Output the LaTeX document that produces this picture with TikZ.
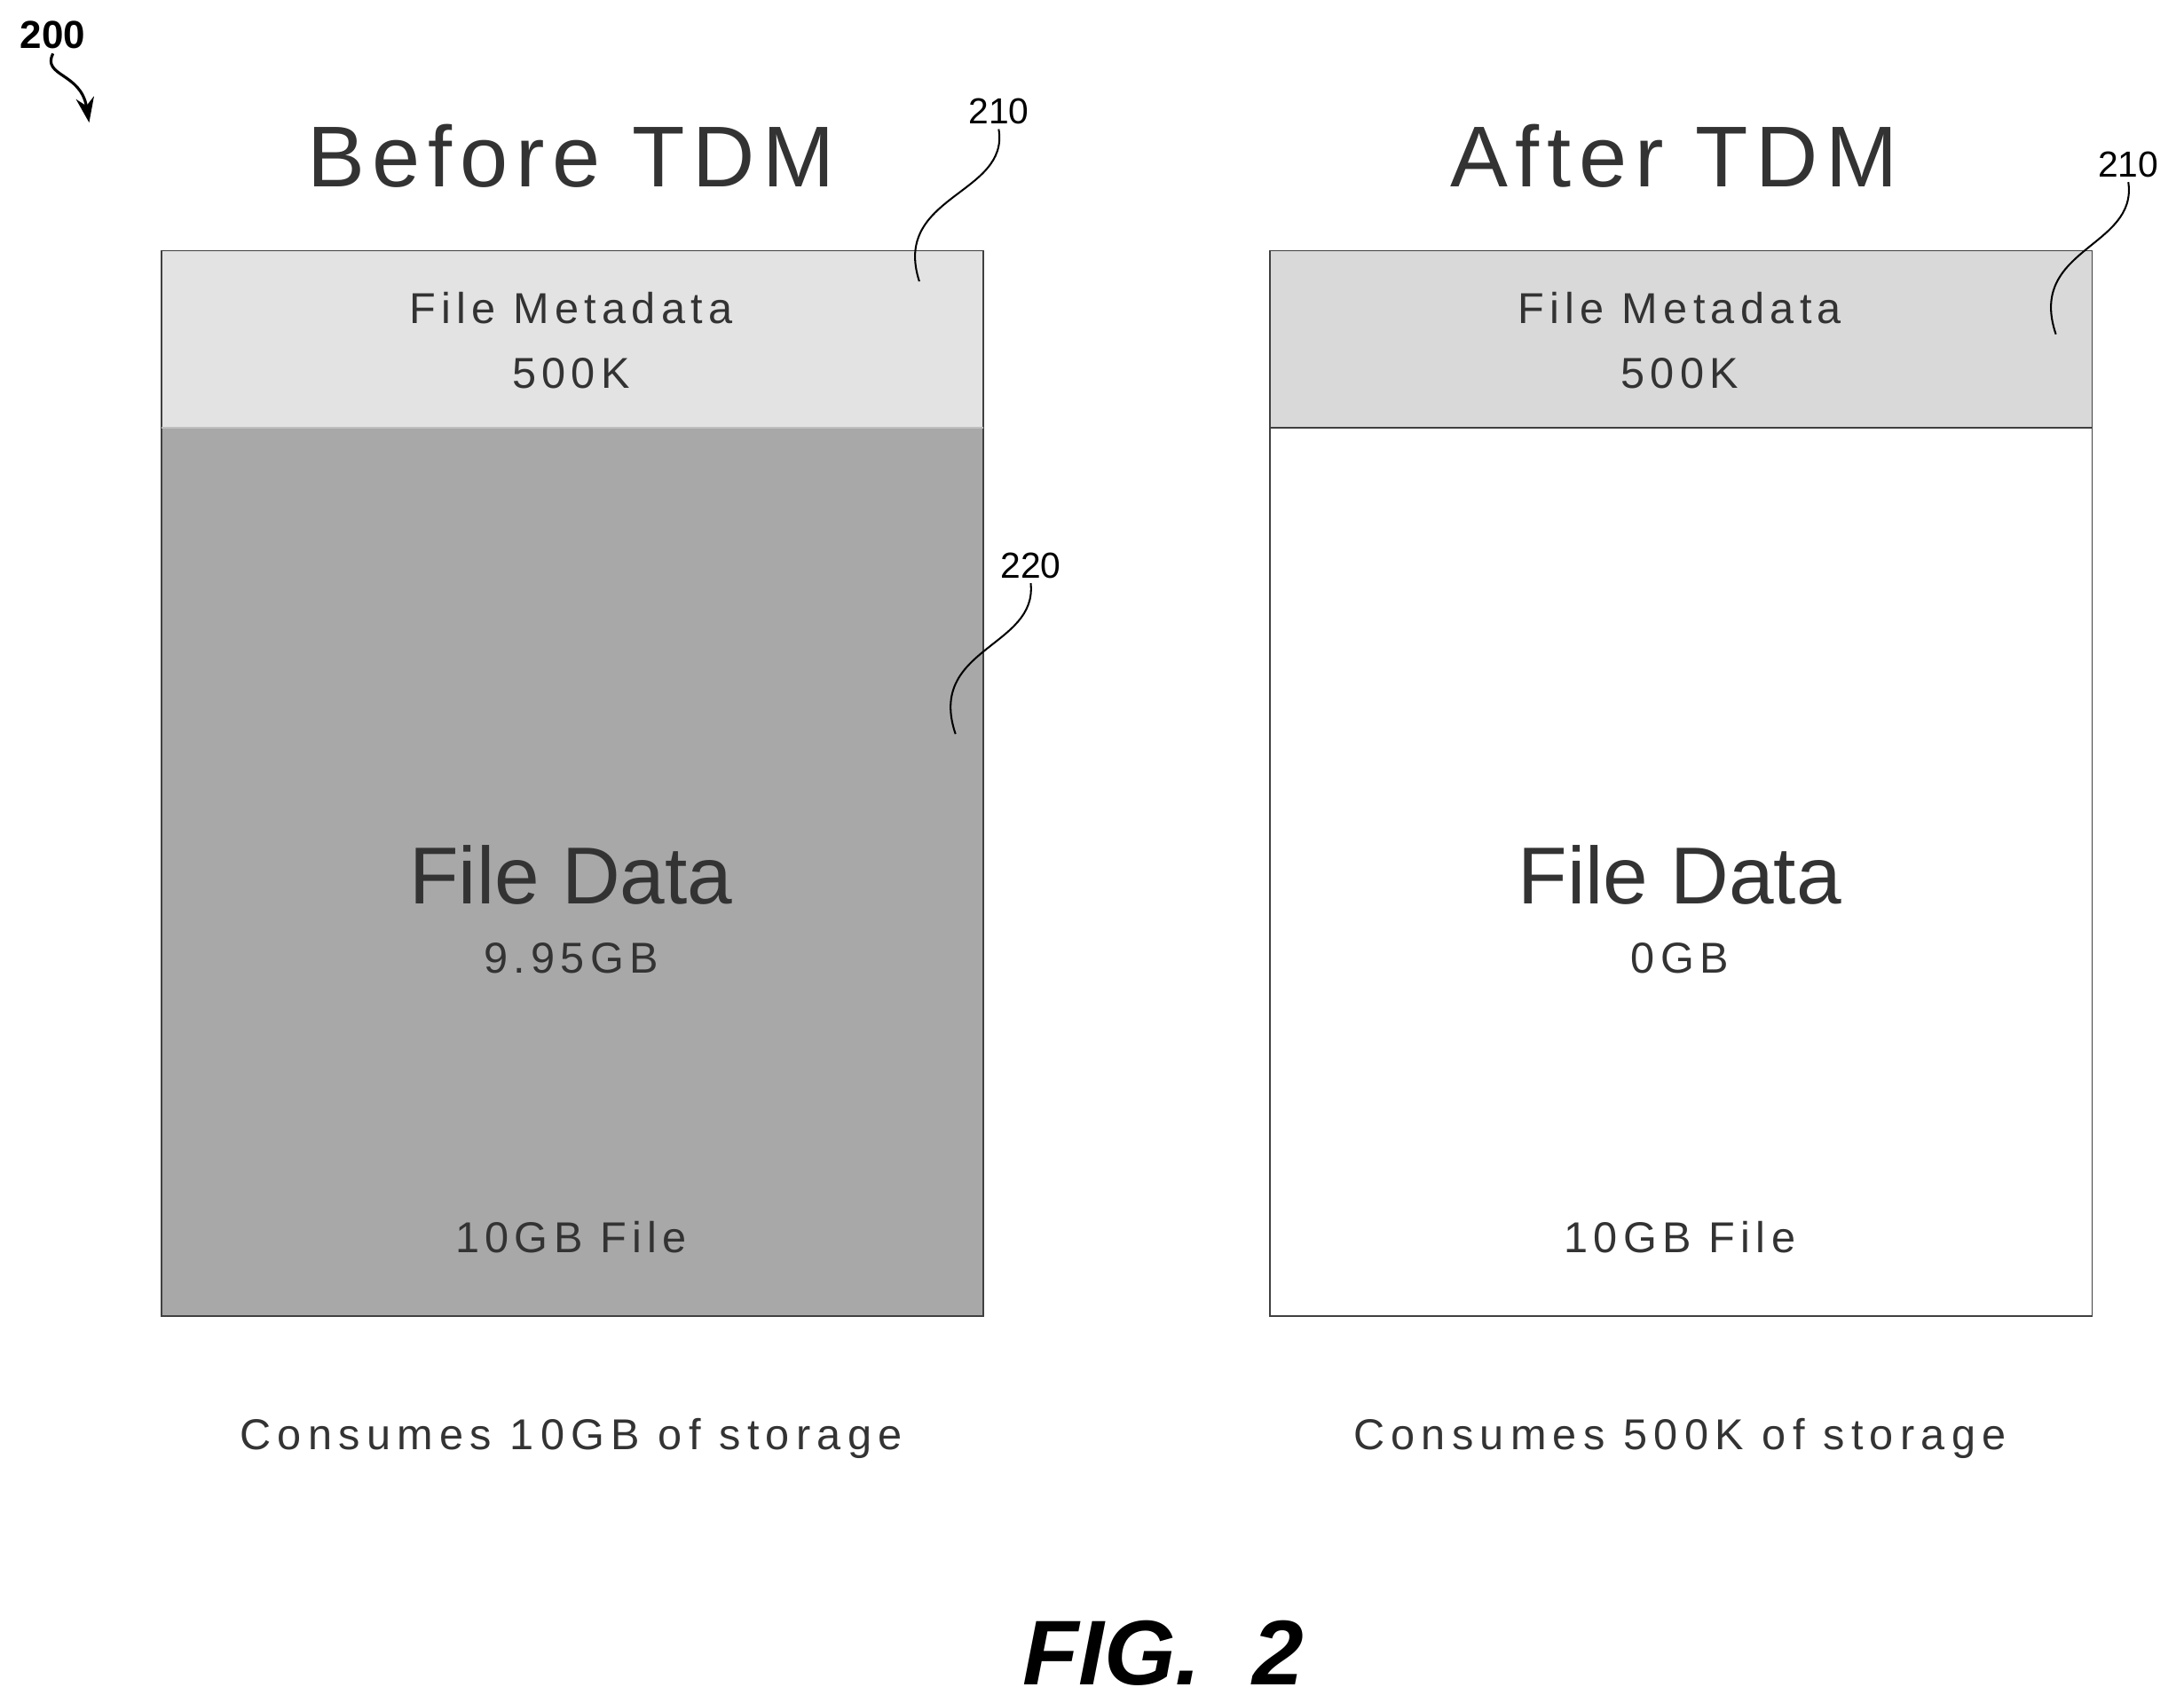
\documentclass[tikz,border=0pt]{standalone}
\usepackage{fontspec}
\setmainfont{Liberation Sans}
\usetikzlibrary{arrows.meta}
\begin{document}
\begin{tikzpicture}[x=1pt,y=-1pt,
  box/.style={draw=black!75,line width=1.2pt},
  lead/.style={line width=1.3pt},
  ref/.style={font=\fontsize{26}{28}\selectfont}]
\useasboundingbox (0,0) rectangle (1568,1222.5);
% left
\fill[black!34] (116,307) rectangle (706,945);
\fill[black!11] (116,180) rectangle (706,307);
\draw[box] (116,180) rectangle (706,945);
\draw[black!25,line width=1pt] (116,307) -- (706,307);
% right
\fill[black!15] (912,180) rectangle (1502,307);
\draw[box] (912,180) rectangle (1502,945);
\draw[box] (912,307) -- (1502,307);
% titles
\node[text=black!80,font=\fontsize{62}{66}\selectfont\addfontfeatures{LetterSpace=9}] (t1) at (410,112) {Before TDM};
\node[text=black!80,font=\fontsize{62}{66}\selectfont\addfontfeatures{LetterSpace=9}] (t2) at (1202,112) {After TDM};
\foreach \c/\n/\s/\bot in {410/L/9.95GB/10GB of storage,1206/R/0GB/500K of storage}{
  \node[text=black!80,font=\fontsize{31}{32}\selectfont\addfontfeatures{LetterSpace=13}] (md\n) at (\c,221) {File Metadata};
  \node[text=black!80,font=\fontsize{31}{32}\selectfont\addfontfeatures{LetterSpace=13}] (mk\n) at (\c,268) {500K};
  \node[text=black!80,font=\fontsize{58}{60}\selectfont] (fd\n) at (\c,628) {File Data};
  \node[text=black!80,font=\fontsize{31}{32}\selectfont\addfontfeatures{LetterSpace=13}] (gb\n) at (\c,688) {\s};
  \node[text=black!80,font=\fontsize{31}{32}\selectfont\addfontfeatures{LetterSpace=13}] (ff\n) at (\c,888) {10GB File};
  \node[text=black!80,font=\fontsize{31}{32}\selectfont\addfontfeatures{LetterSpace=15}] (cs\n) at (\c,1033) {Consumes \bot};
}
% refs
\node[ref] (r210a) at (717,80) {210};
\coordinate (e210a) at (660,202);
\draw[lead] (r210a.south) .. controls (725,140) and (640,140) .. (e210a);
\node[ref] (r220) at (740,406) {220};
\coordinate (e220) at (686,527);
\draw[lead] (r220.south) .. controls (745,465) and (665,465) .. (e220);
\node[ref] (r210b) at (1528,118) {210};
\coordinate (e210b) at (1476,240);
\draw[lead] (r210b.south) .. controls (1535,178) and (1455,178) .. (e210b);
\node[font=\fontsize{28}{30}\selectfont\bfseries] (r200) at (38,25) {200};
\coordinate (e200) at (64,88);
\draw[line width=2pt,-{Stealth[length=18pt,width=13pt]}] (r200.south) .. controls (30,55) and (58,52) .. (e200);
\node[font=\fontsize{66}{70}\selectfont\bfseries\itshape] (fig) at (835,1187) {FIG.~~2};
\end{tikzpicture}
\end{document}
